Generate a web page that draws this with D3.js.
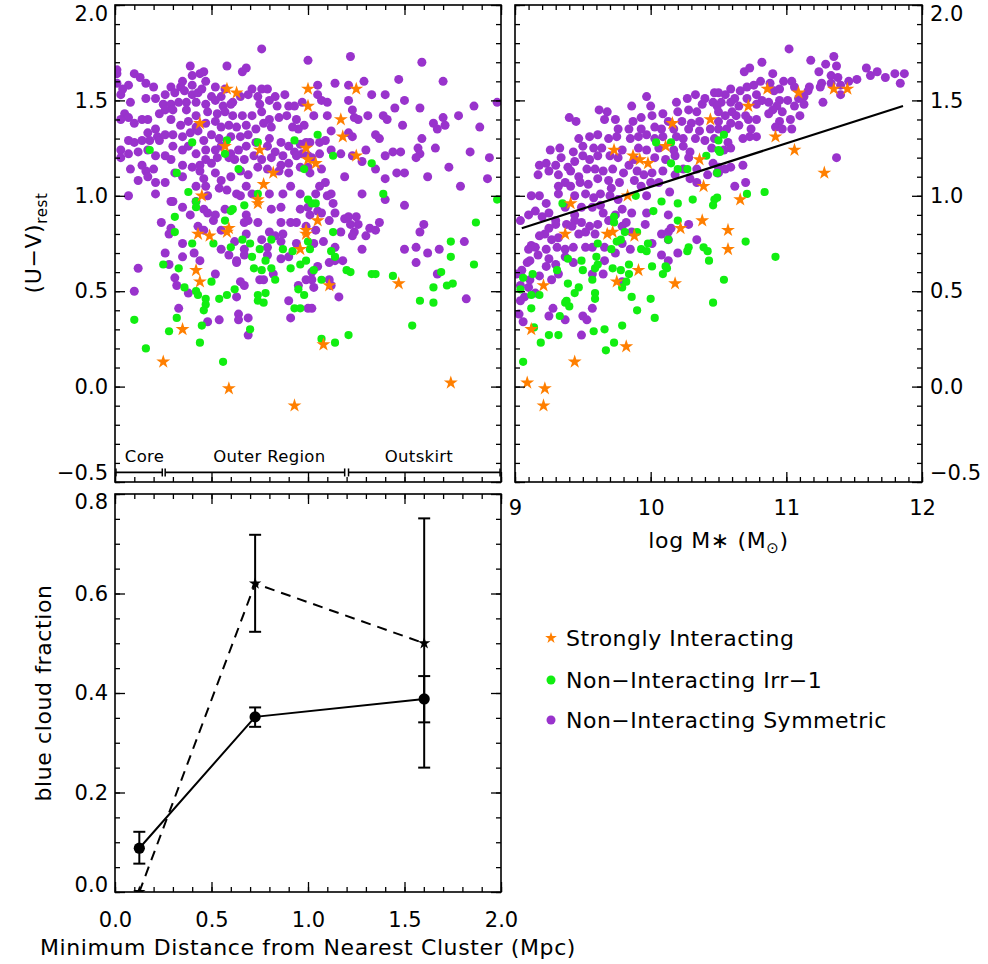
<!DOCTYPE html>
<html><head><meta charset="utf-8">
<script src="https://cdn.jsdelivr.net/npm/d3@7"></script>
<style>
body{margin:0;background:#fff}
svg{display:block}
</style></head><body><svg id="c" width="988" height="964"></svg>
<script>
// ---------------- DATA ----------------
// Tick labels
const uvTicks = [-0.5, 0, 0.5, 1.0, 1.5, 2.0];
const distTicks = [0, 0.5, 1.0, 1.5, 2.0];
const massTicks = [9, 10, 11, 12];
const fracTicks = [0, 0.2, 0.4, 0.6, 0.8];

// Legend / categories
const legendLabels = ["Strongly Interacting", "Non\u2212Interacting Irr\u22121", "Non\u2212Interacting Symmetric"];
const regionNames = ["Core", "Outer Region", "Outskirt"];
const regionStart = [0.005, 0.26, 1.21];
const regionEnd = [0.245, 1.19, 1.995];
const regionLabelX = [0.153, 0.80, 1.575];

// Top-left: [min distance (Mpc), (U-V)rest]
const symLeft = [[0.76,1.77],[0.01,1.66],[0.01,1.64],[0.39,1.68],[0.58,1.68],[0.68,1.67],[0.10,1.64],[0.13,1.62],[0.16,1.59],[0.40,1.63],[0.44,1.64],[0.46,1.65],[0.66,1.65],[0.07,1.58],[0.04,1.56],[0.03,1.53],[0.01,1.59],[0.20,1.57],[0.29,1.57],[0.34,1.57],[0.35,1.60],[0.40,1.58],[0.47,1.60],[0.52,1.57],[0.57,1.56],[0.71,1.56],[0.76,1.56],[0.79,1.56],[0.83,1.52],[0.88,1.53],[0.26,1.53],[0.31,1.54],[0.36,1.55],[0.40,1.53],[0.43,1.54],[0.45,1.56],[0.50,1.52],[0.55,1.52],[0.61,1.49],[0.69,1.53],[0.74,1.52],[0.08,1.49],[0.05,1.43],[0.07,1.41],[0.10,1.38],[0.03,1.40],[0.16,1.51],[0.21,1.51],[0.25,1.48],[0.29,1.48],[0.33,1.49],[0.37,1.49],[0.42,1.49],[0.47,1.48],[0.52,1.50],[0.56,1.47],[0.60,1.48],[0.65,1.52],[0.75,1.48],[0.80,1.50],[0.84,1.47],[0.90,1.47],[0.93,1.47],[0.97,1.49],[0.23,1.43],[0.26,1.45],[0.30,1.45],[0.37,1.45],[0.42,1.42],[0.48,1.44],[0.53,1.43],[0.57,1.44],[0.61,1.42],[0.66,1.42],[0.71,1.42],[0.76,1.44],[0.80,1.40],[0.85,1.41],[0.89,1.42],[0.94,1.40],[0.98,1.37],[0.14,1.40],[0.17,1.40],[0.21,1.35],[0.17,1.33],[0.22,1.31],[0.29,1.40],[0.34,1.37],[0.38,1.39],[0.42,1.36],[0.47,1.38],[0.52,1.39],[0.55,1.36],[0.59,1.37],[0.63,1.36],[0.68,1.37],[0.73,1.35],[0.77,1.38],[0.81,1.36],[0.95,1.35],[0.92,1.36],[0.07,1.29],[0.10,1.28],[0.14,1.29],[0.18,1.29],[0.23,1.29],[0.26,1.32],[0.30,1.32],[0.35,1.31],[0.39,1.33],[0.43,1.34],[0.46,1.29],[0.50,1.32],[0.54,1.30],[0.60,1.31],[0.65,1.31],[0.69,1.32],[0.73,1.28],[0.80,1.30],[0.86,1.28],[0.90,1.26],[0.96,1.27],[0.99,1.28],[0.03,1.24],[0.07,1.22],[0.12,1.23],[0.17,1.24],[0.21,1.21],[0.26,1.21],[0.30,1.26],[0.35,1.24],[0.38,1.26],[0.42,1.22],[0.47,1.24],[0.52,1.24],[0.55,1.26],[0.60,1.22],[0.64,1.24],[0.68,1.26],[0.79,1.26],[0.83,1.23],[0.87,1.21],[0.93,1.23],[0.97,1.22],[1.00,1.21],[0.03,1.20],[0.08,1.14],[0.14,1.16],[0.16,1.13],[0.20,1.14],[0.17,1.10],[0.21,1.07],[0.26,1.07],[0.12,1.08],[0.29,1.19],[0.35,1.16],[0.40,1.15],[0.44,1.16],[0.47,1.19],[0.50,1.17],[0.53,1.20],[0.59,1.20],[0.62,1.19],[0.67,1.19],[0.72,1.21],[0.76,1.19],[0.81,1.20],[0.86,1.16],[0.90,1.17],[0.94,1.21],[0.31,1.12],[0.35,1.10],[0.44,1.13],[0.46,1.09],[0.52,1.12],[0.55,1.08],[0.60,1.10],[0.65,1.13],[0.69,1.11],[0.74,1.15],[0.79,1.14],[0.85,1.13],[0.90,1.12],[0.96,1.15],[0.42,1.05],[0.47,1.05],[0.54,1.04],[0.58,1.03],[0.63,1.01],[0.68,1.05],[0.71,1.01],[0.80,1.01],[0.87,1.01],[0.91,1.05],[0.07,1.00],[0.21,1.01],[0.29,0.97],[0.48,1.00],[0.65,1.00],[0.96,1.01],[0.35,0.94],
[1.22,1.73],[1.00,1.71],[1.59,1.70],[1.14,1.59],[1.21,1.58],[1.29,1.60],[1.47,1.61],[1.70,1.60],[1.05,1.58],[1.33,1.53],[1.40,1.53],[1.98,1.49],[1.50,1.50],[1.21,1.50],[1.05,1.53],[1.07,1.50],[1.10,1.49],[1.45,1.46],[1.58,1.46],[1.86,1.47],[1.78,1.42],[1.70,1.41],[1.65,1.38],[1.67,1.35],[1.71,1.37],[1.89,1.36],[1.49,1.37],[1.39,1.42],[1.41,1.40],[1.31,1.42],[1.26,1.40],[1.23,1.45],[1.24,1.41],[1.10,1.42],[1.03,1.42],[1.12,1.34],[1.21,1.33],[1.23,1.31],[1.35,1.32],[1.37,1.30],[1.59,1.30],[1.66,1.25],[1.57,1.25],[1.58,1.22],[1.56,1.20],[1.48,1.23],[1.44,1.23],[1.40,1.21],[1.30,1.24],[1.84,1.23],[1.94,1.20],[1.23,1.21],[1.17,1.22],[1.12,1.24],[1.06,1.22],[1.09,1.29],[1.06,1.28],[1.01,1.28],[1.02,1.20],[1.01,1.12],[1.07,1.14],[1.35,1.14],[1.28,1.18],[1.19,1.10],[1.40,1.09],[1.46,1.12],[1.50,1.12],[1.62,1.10],[1.73,1.15],[1.79,1.05],[1.93,1.09],[1.09,1.07],[1.06,1.05],[1.04,1.01],[1.12,1.01],[1.10,1.00],[1.28,1.01],[1.40,0.98],[1.50,0.95],[1.13,0.96],[1.00,1.15],
[0.30,0.97],[0.42,0.97],[0.57,0.93],[0.68,0.90],[0.69,0.87],[0.81,0.93],[0.86,0.94],[0.96,0.93],[1.00,0.94],[0.39,0.90],[0.46,0.93],[0.48,0.91],[0.52,0.90],[0.51,0.87],[0.24,0.86],[0.29,0.83],[0.28,0.80],[0.43,0.84],[0.46,0.82],[0.55,0.82],[0.67,0.86],[0.74,0.86],[0.80,0.81],[0.86,0.86],[0.91,0.86],[0.94,0.86],[0.99,0.84],[0.68,0.80],[0.62,0.76],[0.76,0.77],[0.83,0.79],[0.87,0.80],[0.86,0.76],[0.94,0.75],[0.35,0.75],[0.55,0.72],[0.67,0.72],[0.67,0.69],[0.79,0.73],[0.79,0.69],[0.63,0.66],[0.59,0.69],[0.26,0.70],[0.35,0.68],[0.28,0.64],[0.44,0.66],[0.41,0.70],[0.86,0.67],[0.90,0.68],[0.12,0.62],[0.52,0.59],[0.63,0.65],[0.31,0.57],[0.32,0.53],[0.38,0.49],[0.65,0.55],[0.67,0.53],[0.75,0.56],[0.77,0.56],[0.82,0.59],[0.63,0.47],[0.95,0.53],[0.99,0.56],[0.10,0.50],[0.90,0.45],[0.33,0.41],[0.48,0.34],[0.54,0.35],[0.64,0.38],[0.64,0.35],[0.69,0.36],[0.91,0.36],[0.69,0.27],[1.00,0.41],
[1.01,0.90],[1.05,0.92],[1.07,0.91],[1.11,0.87],[1.14,0.91],[1.19,0.88],[1.21,0.89],[1.25,0.89],[1.22,0.85],[1.26,0.85],[1.32,0.83],[1.35,0.82],[1.37,0.86],[1.24,0.81],[1.23,0.79],[1.30,0.79],[1.17,0.81],[1.04,0.82],[1.08,0.76],[1.03,0.75],[1.14,0.73],[1.18,0.66],[1.14,0.66],[1.11,0.65],[1.05,0.63],[1.02,0.60],[1.02,0.56],[1.03,0.52],[1.11,0.56],[1.12,0.53],[1.16,0.47],[1.02,0.41],[1.28,0.72],[1.50,0.72],[1.56,0.73],[1.62,0.70],[1.68,0.72],[1.60,0.85],[1.58,0.81],[1.81,0.76],[1.56,0.65],[1.67,0.59],[1.82,0.46]];

const irrLeft = [[0.18,1.24],[0.40,1.28],[0.58,1.29],[0.57,1.22],[0.74,1.28],[0.93,1.29],[0.32,1.12],[0.64,1.14],[0.38,1.02],[0.42,0.97],[0.42,0.94],[0.67,0.95],[0.98,1.14],[1.00,0.98],[0.61,0.93],[0.74,1.01],
[1.05,1.32],[1.13,1.21],[1.33,1.17],[1.39,1.01],[1.98,0.98],[1.02,0.96],[1.04,0.96],
[0.31,0.89],[0.31,0.81],[0.60,0.92],[0.57,0.87],[0.40,0.75],[0.51,0.75],[0.60,0.73],[0.66,0.77],[0.70,0.75],[0.75,0.72],[0.71,0.68],[0.78,0.66],[0.81,0.77],[0.87,0.72],[0.92,0.71],[0.96,0.64],[0.99,0.66],[0.25,0.64],[0.33,0.62],[0.72,0.62],[0.76,0.61],[0.81,0.62],[0.83,0.56],[0.91,0.62],[0.50,0.55],[0.36,0.52],[0.42,0.50],[0.43,0.48],[0.47,0.46],[0.47,0.43],[0.46,0.40],[0.54,0.46],[0.58,0.48],[0.62,0.51],[0.74,0.48],[0.78,0.49],[0.74,0.45],[0.77,0.44],[0.95,0.51],[0.98,0.48],[0.93,0.41],[0.96,0.41],[0.10,0.35],[0.32,0.36],[0.28,0.29],[0.45,0.32],[0.70,0.30],[0.44,0.23],[0.16,0.20],[0.56,0.13],
[1.13,0.81],[1.00,0.76],[1.01,0.72],[1.12,0.71],[1.14,0.68],[1.03,0.61],[1.20,0.61],[1.22,0.60],[1.33,0.59],[1.35,0.59],[1.44,0.58],[1.07,0.56],[1.87,0.86],[1.74,0.76],[1.74,0.68],[1.86,0.64],[1.69,0.60],[1.65,0.52],[1.72,0.53],[1.75,0.54],[1.58,0.45],[1.65,0.44],[1.54,0.32],[1.21,0.27],[1.14,0.23],[1.07,0.25]];

const intLeft = [[0.58,1.56],[0.63,1.54],[1.00,1.56],[1.25,1.56],[1.00,1.47],[0.44,1.38],[1.17,1.40],[1.18,1.31],[0.57,1.26],[0.75,1.24],[0.99,1.25],[1.00,1.19],[1.04,1.17],[1.25,1.21],[0.82,1.12],[0.77,1.06],[0.45,1.00],[0.74,0.98],[0.74,0.96],[1.05,0.87],[0.59,0.83],[0.58,0.81],[0.43,0.80],[0.49,0.79],[0.99,0.82],[0.99,0.80],[0.96,0.72],[0.42,0.61],[0.44,0.55],[1.11,0.53],[1.47,0.54],[0.35,0.30],[1.08,0.22],[0.25,0.13],[0.59,-0.01],[0.93,-0.10],[1.74,0.02]];

// Top-right: [log M*, (U-V)rest]
const symRight = [[9.97,1.52],[9.86,1.47],[10.00,1.47],[10.19,1.49],[10.27,1.51],[10.33,1.53],[10.40,1.51],[10.47,1.54],[9.62,1.45],[9.68,1.44],[9.74,1.40],[9.66,1.40],[9.40,1.41],[9.45,1.39],[9.87,1.39],[9.93,1.41],[10.01,1.42],[10.09,1.43],[10.20,1.44],[10.28,1.45],[10.34,1.44],[10.38,1.48],[10.46,1.49],[10.50,1.44],[10.13,1.39],[10.23,1.39],[10.30,1.38],[10.36,1.39],[9.84,1.35],[9.76,1.35],[9.93,1.35],[10.03,1.36],[10.08,1.35],[10.17,1.35],[10.28,1.35],[10.36,1.34],[10.44,1.35],[9.47,1.30],[9.55,1.31],[9.61,1.32],[9.69,1.30],[9.75,1.31],[9.85,1.30],[9.91,1.31],[9.97,1.32],[10.03,1.30],[10.09,1.31],[10.19,1.31],[10.24,1.30],[10.33,1.30],[10.40,1.29],[10.47,1.30],[9.26,1.24],[9.33,1.25],[9.43,1.23],[9.50,1.26],[9.58,1.25],[9.64,1.25],[9.79,1.24],[9.91,1.25],[9.97,1.24],[10.06,1.25],[10.17,1.24],[10.24,1.26],[10.29,1.23],[10.45,1.25],[9.18,1.16],[9.23,1.17],[9.30,1.16],[9.34,1.20],[9.39,1.15],[9.44,1.18],[9.50,1.21],[9.55,1.19],[9.61,1.21],[9.70,1.21],[9.76,1.20],[9.84,1.16],[9.88,1.19],[10.03,1.20],[10.11,1.19],[10.18,1.21],[10.28,1.20],[10.46,1.17],[9.17,1.11],[9.25,1.13],[9.32,1.11],[9.41,1.13],[9.47,1.10],[9.53,1.14],[9.59,1.14],[9.65,1.13],[9.72,1.14],[9.80,1.12],[9.90,1.13],[9.95,1.11],[10.01,1.12],[10.09,1.13],[10.18,1.11],[10.24,1.14],[10.34,1.14],[10.42,1.11],[10.49,1.12],[9.32,1.05],[9.37,1.07],[9.41,1.05],[9.48,1.07],[9.54,1.06],[9.61,1.09],[9.69,1.08],[9.71,1.04],[9.77,1.07],[9.88,1.08],[9.93,1.05],[10.00,1.07],[10.06,1.07],[10.29,1.09],[10.34,1.07],[9.12,1.00],[9.18,1.00],[9.23,0.96],[9.32,1.01],[9.44,1.00],[9.52,1.01],[9.58,0.99],[9.63,1.01],[9.70,1.00],[9.76,0.98],[9.97,1.00],[10.14,1.02],[9.04,0.87],[9.10,0.90],[9.15,0.92],[9.20,0.89],[9.25,0.91],[9.30,0.87],[9.37,0.94],[9.44,0.90],[9.49,0.94],[9.57,0.94],[9.63,0.95],[9.65,0.91],[9.79,0.93],[9.86,0.91],[9.97,0.91],[10.13,0.90],[9.96,0.85],[9.86,0.81],[9.82,0.86],[9.79,0.84],[9.74,0.90],[9.69,0.87],[9.61,0.85],[9.55,0.84],[9.49,0.86],[9.44,0.87],[9.38,0.85],[9.42,0.84],[9.47,0.80],[9.52,0.81],[9.59,0.80],[9.30,0.85],[9.25,0.83],[9.22,0.80],[9.32,0.78],[9.27,0.77],[9.18,0.79],[9.12,0.74],[9.10,0.72],[9.15,0.73],[9.23,0.72],[9.31,0.73],[9.37,0.72],[9.43,0.73],[9.52,0.73],[9.57,0.73],[9.66,0.73],[9.79,0.75],[9.85,0.72],[10.01,0.75],[10.08,0.80],[10.13,0.81],[10.34,0.77],[10.20,0.70],[10.13,0.66],[10.08,0.69],[9.37,0.68],[9.43,0.65],[9.30,0.64],[9.25,0.67],[9.17,0.69],[9.11,0.66],[9.09,0.65],[9.05,0.61],[9.01,0.59],[9.23,0.63],[9.32,0.59],[9.27,0.56],[9.18,0.58],[9.11,0.56],[9.04,0.53],[9.10,0.52],[9.15,0.49],[9.07,0.47],[9.04,0.45],[9.03,0.38],[9.06,0.34],[9.25,0.37],[9.28,0.41],[9.37,0.35],[9.50,0.37],[9.53,0.35],[9.57,0.41],[9.49,0.27],[9.57,0.59],[9.65,0.59],[9.66,0.66],[9.74,0.70],[9.79,0.55],[10.15,0.83],[10.28,0.85],[10.13,0.77],
[11.02,1.77],[11.18,1.71],[10.82,1.70],[10.73,1.67],[10.69,1.65],[11.35,1.73],[11.29,1.69],[11.37,1.68],[11.24,1.65],[11.33,1.63],[11.38,1.62],[10.90,1.64],[11.59,1.67],[11.62,1.63],[11.67,1.65],[11.73,1.62],[11.80,1.64],[11.87,1.64],[11.84,1.59],[11.52,1.61],[11.46,1.60],[11.26,1.59],[11.33,1.59],[11.40,1.58],[11.25,1.57],[11.40,1.53],[11.27,1.49],[11.17,1.57],[11.16,1.55],[11.13,1.52],[11.13,1.48],[11.06,1.47],[11.09,1.51],[11.04,1.60],[11.06,1.57],[10.98,1.60],[10.95,1.56],[11.01,1.50],[10.95,1.50],[10.91,1.55],[10.88,1.59],[10.81,1.60],[10.76,1.58],[10.71,1.57],[10.66,1.55],[10.59,1.56],[10.55,1.53],[10.50,1.54],[10.78,1.53],[10.82,1.50],[10.87,1.49],[10.93,1.47],[10.97,1.44],[11.03,1.40],[11.10,1.42],[11.04,1.35],[10.95,1.39],[10.92,1.36],[10.97,1.35],[10.90,1.45],[10.87,1.43],[10.78,1.40],[10.72,1.40],[10.70,1.42],[10.78,1.48],[10.71,1.51],[10.62,1.51],[10.59,1.49],[10.52,1.49],[10.49,1.47],[10.65,1.47],[10.63,1.42],[10.60,1.44],[10.55,1.42],[10.50,1.39],[10.59,1.38],[10.65,1.37],[10.74,1.35],[10.78,1.31],[10.68,1.30],[10.73,1.31],[10.56,1.35],[10.50,1.35],[10.57,1.28],[10.59,1.25],[10.54,1.24],[10.50,1.15],[10.50,1.12],[10.59,1.15],[10.55,1.14],[10.68,1.16],[10.62,1.05],[10.70,1.07],[11.37,1.20]];

const irrRight = [[10.04,1.28],[10.15,1.28],[10.15,1.17],[10.20,1.14],[10.27,1.14],[10.41,1.21],[10.50,1.29],[10.50,1.24],[10.49,1.12],[9.89,1.00],[9.35,0.96],[10.08,0.97],[10.20,0.96],[10.31,0.98],[10.47,0.98],[10.46,0.95],[10.02,0.92],[10.20,0.87],[9.73,0.89],[9.73,0.86],[9.81,0.81],[9.90,0.81],[9.78,0.77],[9.75,0.76],[9.71,0.72],[9.93,0.72],[9.98,0.75],[9.97,0.71],[10.13,0.77],[10.28,0.73],[10.27,0.71],[10.39,0.73],[10.42,0.71],[10.43,0.66],[9.61,0.75],[9.60,0.68],[9.49,0.66],[9.39,0.67],[9.31,0.61],[9.50,0.61],[9.59,0.62],[9.61,0.64],[9.72,0.62],[9.78,0.61],[9.84,0.64],[9.84,0.59],[10.01,0.63],[10.11,0.63],[10.12,0.62],[10.09,0.59],[9.82,0.55],[9.79,0.52],[9.57,0.56],[9.39,0.54],[9.47,0.52],[9.59,0.49],[9.59,0.46],[9.44,0.49],[9.38,0.45],[9.37,0.44],[9.40,0.42],[9.13,0.59],[9.06,0.57],[9.04,0.51],[9.12,0.48],[9.18,0.48],[9.12,0.41],[9.86,0.47],[10.00,0.46],[9.90,0.40],[10.03,0.36],[10.46,0.44],[9.33,0.37],[9.25,0.27],[9.32,0.27],[9.58,0.29],[9.66,0.30],[9.79,0.32],[9.14,0.31],
[10.54,1.32],[10.51,1.23],[10.71,1.01],[10.84,1.02],[10.49,0.99],[10.70,0.76],[10.54,0.56],[10.92,0.68],[9.06,0.13],[9.67,0.19],[9.19,0.23],[9.73,0.23]];

const intRight = [[10.86,1.56],[11.09,1.54],[11.35,1.56],[11.45,1.56],[10.72,1.47],[10.44,1.40],[10.16,1.38],[10.11,1.26],[9.73,1.24],[9.87,1.21],[9.92,1.19],[9.98,1.17],[10.36,1.19],[10.92,1.31],[11.06,1.24],[11.28,1.12],[10.39,1.05],[9.83,1.00],[9.41,0.96],[10.66,0.98],[10.38,0.87],[10.22,0.83],[10.57,0.82],[9.37,0.80],[9.68,0.80],[9.72,0.81],[9.88,0.79],[10.57,0.72],[9.91,0.61],[9.75,0.55],[10.18,0.54],[9.21,0.53],[9.12,0.30],[9.82,0.21],[9.44,0.13],[9.09,0.02],[9.22,-0.01],[9.21,-0.10]];

// Red-sequence dividing line
const fitMass = [9.05, 11.86];
const fitUV = [0.83, 1.471];

// Bottom: blue cloud fraction vs distance
const binDist = [0.126, 0.726, 1.602];
const fracAll = [0.088, 0.352, 0.388];
const fracAllLo = [0.057, 0.332, 0.341];
const fracAllHi = [0.121, 0.371, 0.434];
const fracInt = [0.0, 0.62, 0.50];
const fracIntLo = [0.0, 0.523, 0.25];
const fracIntHi = [0.0, 0.718, 0.751];

// ---------------- DRAWING ----------------
const PURPLE = "#9933cc", GREEN = "#11ee11", ORANGE = "#ff7f00";
const FONT = "'DejaVu Sans', sans-serif";
const svg = d3.select("#c");

const xDist = d3.scaleLinear().domain([0, 2]).range([115, 501]);
const yUV = d3.scaleLinear().domain([-0.5, 2]).range([482, 5]);
const xMass = d3.scaleLinear().domain([9, 12]).range([515, 922]);
const xDistB = d3.scaleLinear().domain([0, 2]).range([115, 501]);
const yFrac = d3.scaleLinear().domain([0, 0.8]).range([892, 494]);

const f1 = d3.format(".1f");
const fd = d3.format("d");

function styleAxis(g, size) {
  g.select(".domain").remove();
  g.selectAll("line").attr("stroke", "#000").attr("stroke-width", 1.3);
  g.selectAll("text").attr("font-family", FONT).attr("font-size", size).attr("fill", "#000");
}

function frame(x, y, o) {
  const [xa, xb] = x.range();
  const [ya, yb] = y.range();
  const g = svg.append("g");
  const xMinor = d3.range(o.xMin[0], o.xMin[1] + 1e-9, o.xMin[2]);
  const yMinor = d3.range(o.yMin[0], o.yMin[1] + 1e-9, o.yMin[2]);
  const mk = (axis, scale, vals, size, fmt, pad, tr) => {
    const a = axis(scale).tickValues(vals).tickSize(-size).tickSizeOuter(0).tickPadding(pad || 3).tickFormat(fmt || "");
    const gg = g.append("g").attr("transform", tr).call(a);
    styleAxis(gg, 21);
    return gg;
  };
  mk(d3.axisBottom, x, xMinor, 5, null, 0, `translate(0,${ya})`);
  mk(d3.axisBottom, x, o.xMaj, 10, o.xFmt, o.xPad, `translate(0,${ya})`);
  mk(d3.axisTop, x, xMinor, 5, null, 0, `translate(0,${yb})`);
  mk(d3.axisTop, x, o.xMaj, 10, null, 0, `translate(0,${yb})`);
  mk(d3.axisLeft, y, yMinor, 5, null, 0, `translate(${xa},0)`);
  const gl = mk(d3.axisLeft, y, o.yMaj, 10, o.yLeftFmt, 7, `translate(${xa},0)`);
  mk(d3.axisRight, y, yMinor, 5, null, 0, `translate(${xb},0)`);
  const gr = mk(d3.axisRight, y, o.yMaj, 10, o.yRightFmt, 8, `translate(${xb},0)`);
  const ymax = d3.max(o.yMaj), ymin = d3.min(o.yMaj);
  [gl, gr].forEach(gg => {
    gg.selectAll(".tick text").attr("transform", d => d === ymax ? `translate(0,${o.topShift})` : d === ymin ? `translate(0,${-o.botShift})` : null);
  });
  g.append("rect").attr("x", xa).attr("y", yb).attr("width", xb - xa).attr("height", ya - yb)
    .attr("fill", "none").attr("stroke", "#000").attr("stroke-width", 1.6);
  return g;
}

const defs = svg.append("defs");
function clip(id, x, y) {
  const [xa, xb] = x.range(), [ya, yb] = y.range();
  defs.append("clipPath").attr("id", id).append("rect").attr("x", xa).attr("y", yb).attr("width", xb - xa).attr("height", ya - yb);
}
clip("cTL", xDist, yUV); clip("cTR", xMass, yUV); clip("cB", xDistB, yFrac);

const starSym = d3.symbol(d3.symbolStar, 60);
const starSmall = d3.symbol(d3.symbolStar, 48);
const starLeg = d3.symbol(d3.symbolStar, 42);

function scatter(id, x, sym, irr, inter) {
  const g = svg.append("g").attr("clip-path", `url(#${id})`);
  g.selectAll("circle.s").data(sym).join("circle").attr("class", "s")
    .attr("cx", d => x(d[0])).attr("cy", d => yUV(d[1])).attr("r", 4.5).attr("fill", PURPLE);
  g.selectAll("circle.i").data(irr).join("circle").attr("class", "i")
    .attr("cx", d => x(d[0])).attr("cy", d => yUV(d[1])).attr("r", 4.1).attr("fill", GREEN);
  g.selectAll("path.st").data(inter).join("path").attr("class", "st")
    .attr("d", starSym).attr("transform", d => `translate(${x(d[0])},${yUV(d[1])})`).attr("fill", ORANGE);
  return g;
}

// Top-left panel
scatter("cTL", xDist, symLeft, irrLeft, intLeft);
frame(xDist, yUV, { xMaj: distTicks, xMin: [0, 2, 0.1], yMaj: uvTicks, yMin: [-0.5, 2, 0.1],
  xFmt: null, yLeftFmt: f1, yRightFmt: null, topShift: 9, botShift: 9 });

// region bars
const regY = yUV(-0.45);
const rg = svg.append("g");
regionNames.forEach((n, i) => {
  const a = xDist(regionStart[i]), b = xDist(regionEnd[i]);
  rg.append("line").attr("x1", a).attr("x2", b).attr("y1", regY).attr("y2", regY).attr("stroke", "#000").attr("stroke-width", 1.8);
  [a, b].forEach(px => rg.append("line").attr("x1", px).attr("x2", px).attr("y1", regY - 4).attr("y2", regY + 4).attr("stroke", "#000").attr("stroke-width", 1.5));
  rg.append("text").attr("x", xDist(regionLabelX[i])).attr("y", regY - 10).attr("text-anchor", "middle")
    .attr("font-family", FONT).attr("font-size", 16.5).attr("letter-spacing", 0.3).text(n);
});

// Top-right panel
scatter("cTR", xMass, symRight, irrRight, intRight);
svg.append("path").datum(d3.zip(fitMass, fitUV)).attr("clip-path", "url(#cTR)")
  .attr("d", d3.line().x(d => xMass(d[0])).y(d => yUV(d[1])))
  .attr("fill", "none").attr("stroke", "#000").attr("stroke-width", 2.2);
frame(xMass, yUV, { xMaj: massTicks, xMin: [9, 12, 0.1], yMaj: uvTicks, yMin: [-0.5, 2, 0.1],
  xFmt: fd, xPad: 18, yLeftFmt: null, yRightFmt: f1, topShift: 9, botShift: 9 });

// Bottom panel
const bg = svg.append("g").attr("clip-path", "url(#cB)");
const lineB = d3.line().x(d => xDistB(d[0])).y(d => yFrac(d[1]));
bg.append("path").datum(d3.zip(binDist, fracInt)).attr("d", lineB).attr("fill", "none")
  .attr("stroke", "#000").attr("stroke-width", 2).attr("stroke-dasharray", "10,7");
bg.append("path").datum(d3.zip(binDist, fracAll)).attr("d", lineB).attr("fill", "none")
  .attr("stroke", "#000").attr("stroke-width", 2);
function errBars(lo, hi) {
  binDist.forEach((d, i) => {
    if (hi[i] - lo[i] <= 0) return;
    const x = xDistB(d);
    bg.append("line").attr("x1", x).attr("x2", x).attr("y1", yFrac(lo[i])).attr("y2", yFrac(hi[i])).attr("stroke", "#000").attr("stroke-width", 2);
    [lo[i], hi[i]].forEach(v => bg.append("line").attr("x1", x - 6).attr("x2", x + 6).attr("y1", yFrac(v)).attr("y2", yFrac(v)).attr("stroke", "#000").attr("stroke-width", 2));
  });
}
errBars(fracIntLo, fracIntHi);
errBars(fracAllLo, fracAllHi);
bg.selectAll("circle").data(d3.zip(binDist, fracAll)).join("circle")
  .attr("cx", d => xDistB(d[0])).attr("cy", d => yFrac(d[1])).attr("r", 5.6).attr("fill", "#000");
bg.selectAll("path.bs").data(d3.zip(binDist, fracInt)).join("path").attr("class", "bs")
  .attr("d", starSmall).attr("transform", d => `translate(${xDistB(d[0])},${yFrac(d[1])})`).attr("fill", "#000");
frame(xDistB, yFrac, { xMaj: distTicks, xMin: [0, 2, 0.1], yMaj: fracTicks, yMin: [0, 0.8, 0.05],
  xFmt: f1, xPad: 20, yLeftFmt: f1, yRightFmt: null, topShift: 8, botShift: 7 });

// Axis titles
const yt = svg.append("text").attr("transform", "translate(41,243) rotate(-90)").attr("text-anchor", "middle")
  .attr("font-family", FONT).attr("font-size", 22).attr("letter-spacing", 0.6);
yt.append("tspan").text("(U\u2212V)");
yt.append("tspan").attr("font-size", 15).attr("dy", 6).text("rest");

const xt = svg.append("text").attr("x", 718.5).attr("y", 548).attr("text-anchor", "middle")
  .attr("font-family", FONT).attr("font-size", 22).attr("letter-spacing", 0.6);
xt.append("tspan").text("log M\u2217 (M");
xt.append("tspan").attr("font-size", 15).attr("dy", 5).text("\u2299");
xt.append("tspan").attr("dy", -5).text(")");

svg.append("text").attr("transform", `translate(51,${(494 + 892) / 2}) rotate(-90)`).attr("text-anchor", "middle")
  .attr("font-family", FONT).attr("font-size", 22).attr("letter-spacing", 0.6).text("blue cloud fraction");
svg.append("text").attr("x", 308).attr("y", 955).attr("text-anchor", "middle")
  .attr("font-family", FONT).attr("font-size", 22).attr("letter-spacing", 0.6).text("Minimum Distance from Nearest Cluster (Mpc)");

// Legend
const legY = [638, 680, 720];
const lg = svg.append("g");
lg.append("path").attr("d", starLeg).attr("transform", `translate(551,${legY[0]})`).attr("fill", ORANGE);
lg.append("circle").attr("cx", 551).attr("cy", legY[1]).attr("r", 4.5).attr("fill", GREEN);
lg.append("circle").attr("cx", 551).attr("cy", legY[2]).attr("r", 4.5).attr("fill", PURPLE);
legendLabels.forEach((t, i) => {
  lg.append("text").attr("x", 566).attr("y", legY[i] + 8).attr("font-family", FONT).attr("font-size", 22)
    .attr("letter-spacing", 0.5).attr("fill", "#000").text(t);
});
</script></body></html>
